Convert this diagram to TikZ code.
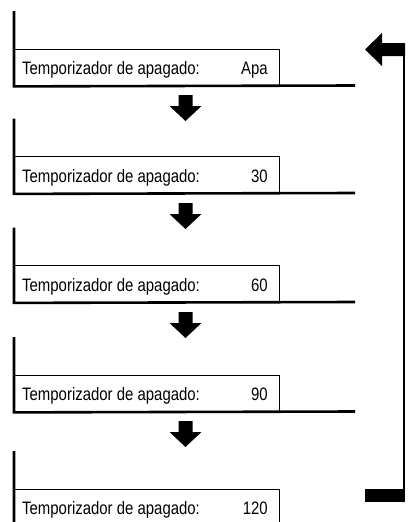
\documentclass[tikz,border=0pt]{standalone}
\usepackage{fontspec}
\setmainfont{Liberation Sans}[FakeStretch=0.83]
\begin{document}
\begin{tikzpicture}[x=1pt,y=-1pt,
  panelbox/.style={draw=black, line width=0.9pt, anchor=north west, minimum width=265pt, minimum height=37pt, inner sep=0pt},
  heavy/.style={line width=2.6pt, line cap=butt},
  lbl/.style={inner sep=0pt, font=\fontsize{18}{18}\selectfont},
  arrowfill/.style={fill=black, draw=none}]
\useasboundingbox (0,0) rectangle (407,522);
\clip (0,0) rectangle (407,522);
\foreach \v/\off [count=\i from 0] in {Apa/0,30/107.5,60/216.5,90/326,120/440} {
  \begin{scope}[shift={(0,\off)}]
    \node[panelbox] (p\i) at (14,48.5) {};
    \node[lbl, anchor=base west] (t\i) at (22,74.5) {Temporizador de apagado:};
    \node[lbl, anchor=base east] (v\i) at (268,74.5) {\v};
    \coordinate (top\i) at (14,11);
    \coordinate (end\i) at (355,85.5);
    \draw[heavy] (top\i) -- (p\i.south west) -- (end\i);
  \end{scope}
}
\foreach \off in {0,108,217,326} {
  \begin{scope}[shift={(0,\off)}]
    \fill[arrowfill] (178.5,95) -- (192.5,95) -- (192.5,106) -- (201.5,106)
      -- (185.5,121) -- (169.5,106) -- (178.5,106) -- cycle;
  \end{scope}
}
% return arrow
\coordinate (rbot) at (404,502);
\coordinate (rtop) at (404,43);
\fill[arrowfill] (365,489) rectangle (405,502);
\draw[line width=2pt] (rbot) -- (404,50);
\fill[arrowfill] (405,43) -- (382,43) -- (382,33) -- (365,49.5) -- (382,66) -- (382,56) -- (405,56) -- cycle;
\end{tikzpicture}
\end{document}
